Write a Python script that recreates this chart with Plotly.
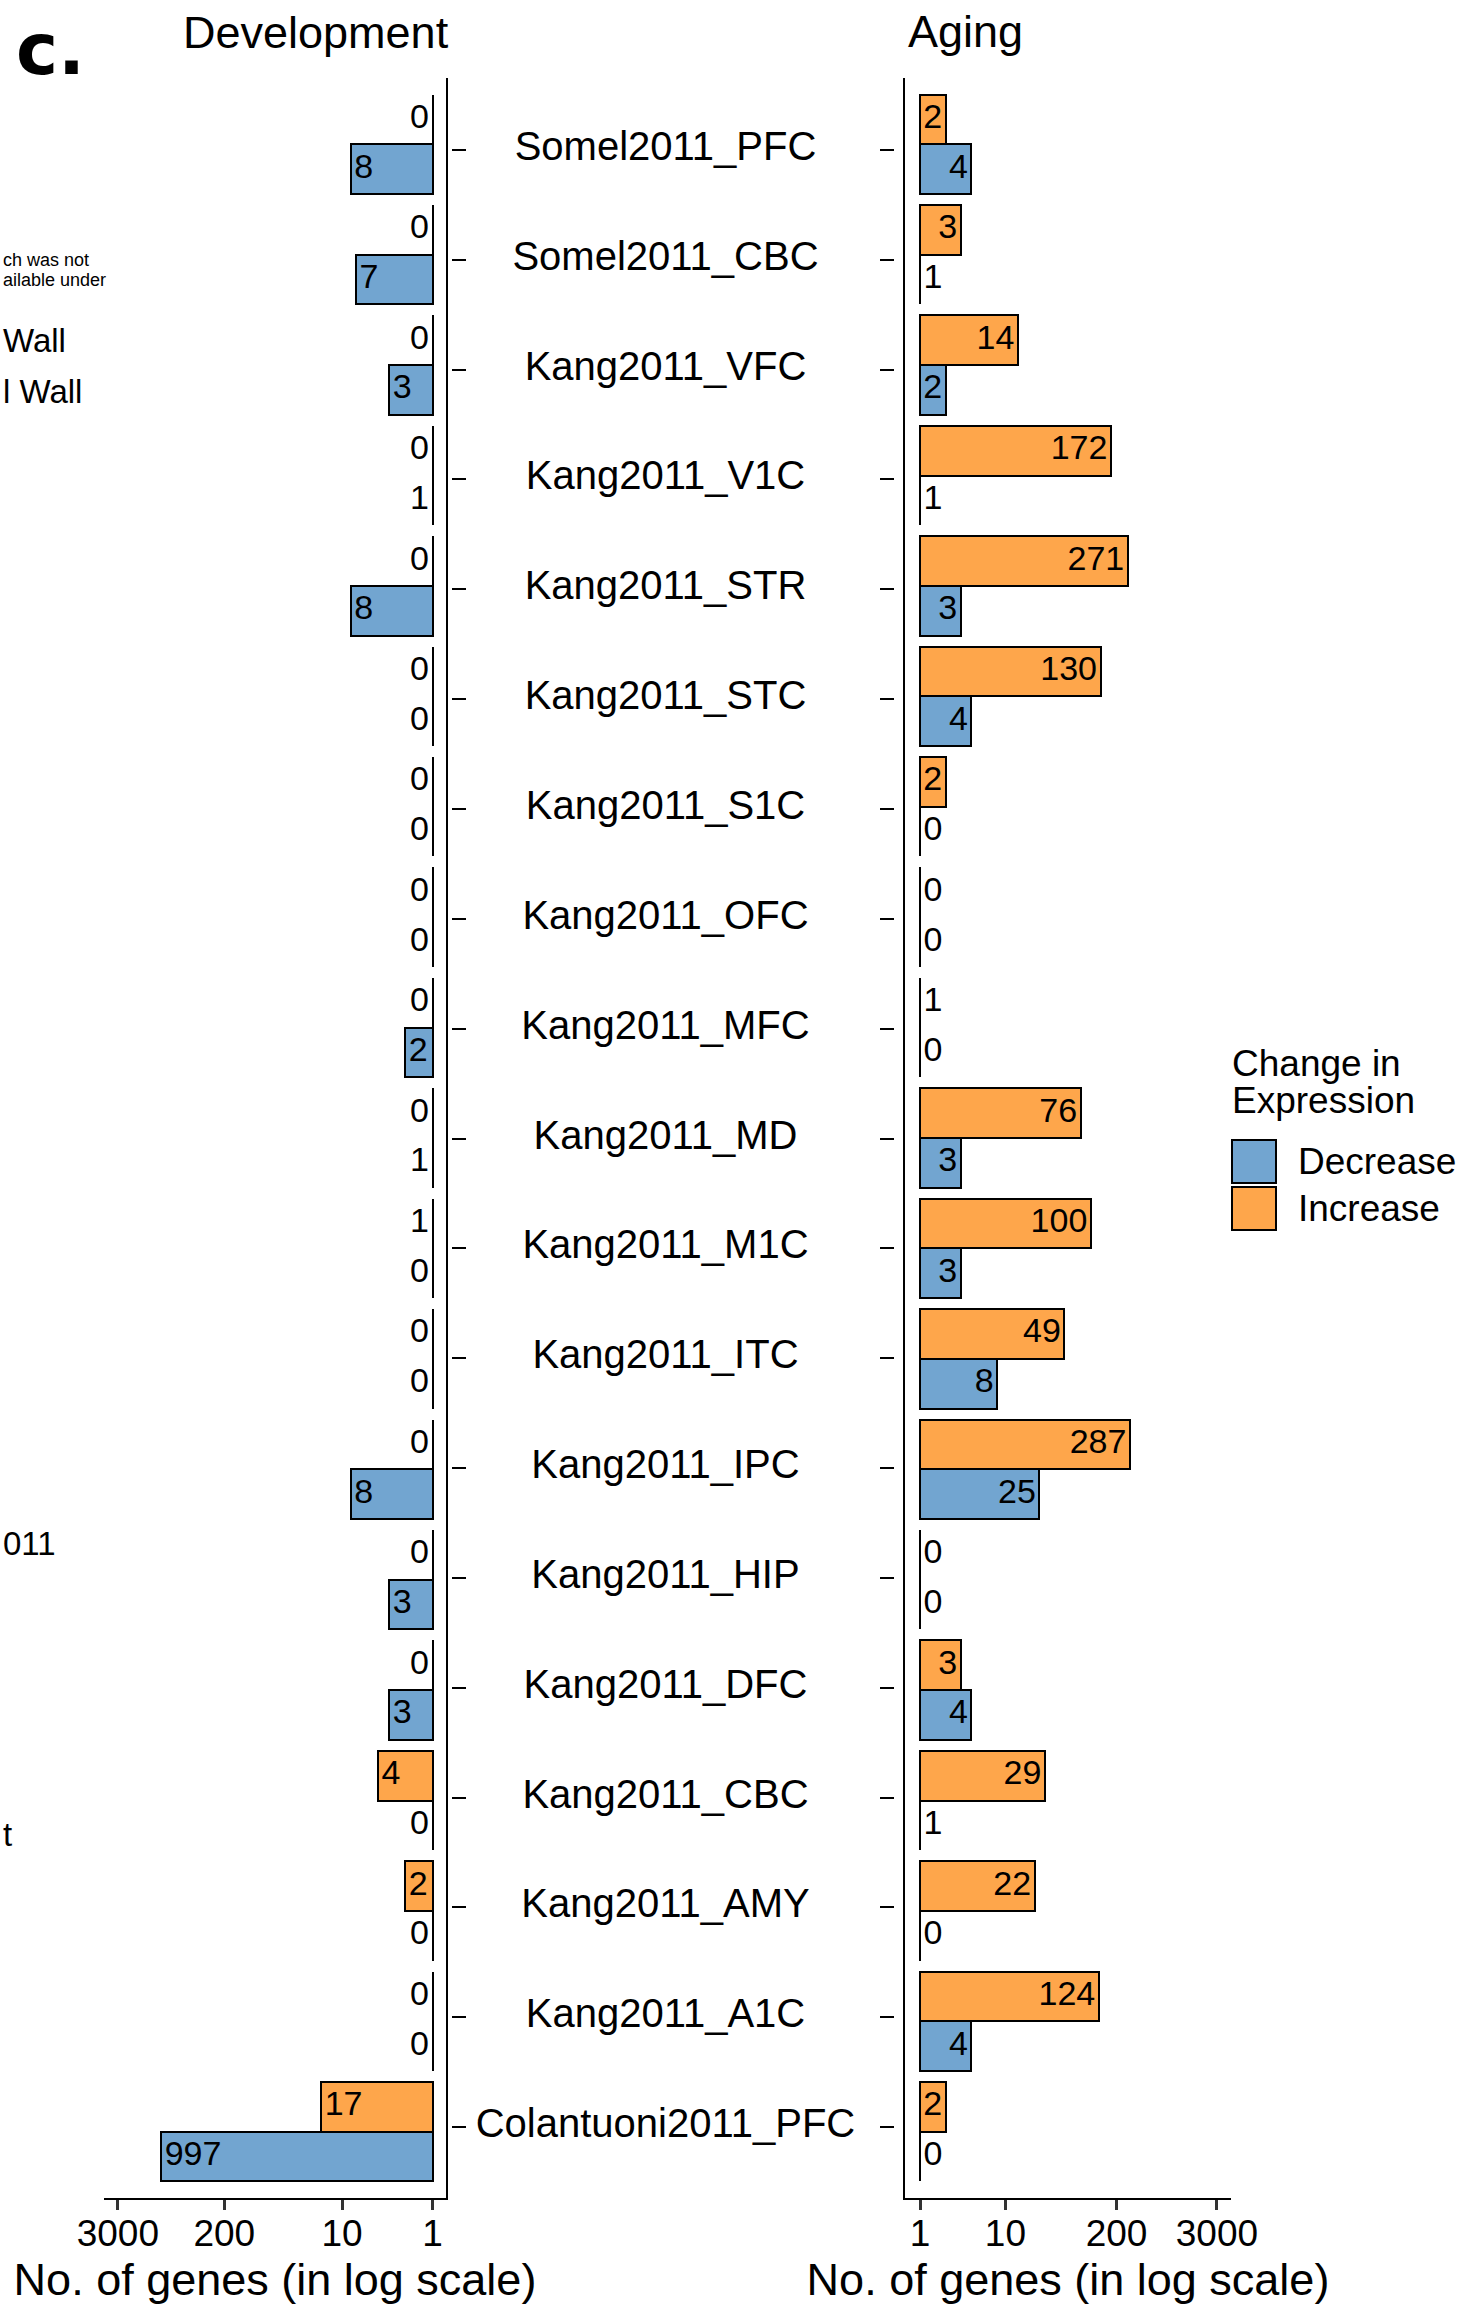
import plotly.graph_objects as go

# ---------------- data ----------------
categories = [
    "Somel2011_PFC", "Somel2011_CBC", "Kang2011_VFC", "Kang2011_V1C",
    "Kang2011_STR", "Kang2011_STC", "Kang2011_S1C", "Kang2011_OFC",
    "Kang2011_MFC", "Kang2011_MD", "Kang2011_M1C", "Kang2011_ITC",
    "Kang2011_IPC", "Kang2011_HIP", "Kang2011_DFC", "Kang2011_CBC",
    "Kang2011_AMY", "Kang2011_A1C", "Colantuoni2011_PFC",
]
dev_increase = [0, 0, 0, 0, 0, 0, 0, 0, 0, 0, 1, 0, 0, 0, 0, 4, 2, 0, 17]
dev_decrease = [8, 7, 3, 1, 8, 0, 0, 0, 2, 1, 0, 0, 8, 3, 3, 0, 0, 0, 997]
aging_increase = [2, 3, 14, 172, 271, 130, 2, 0, 1, 76, 100, 49, 287, 0, 3, 29, 22, 124, 2]
aging_decrease = [4, 1, 2, 1, 3, 4, 0, 0, 0, 3, 3, 8, 25, 0, 4, 1, 0, 4, 0]
x_tickvals = [1, 10, 200, 3000]
x_ticktext = ["1", "10", "200", "3000"]
series_names = ["Decrease", "Increase"]

# ---------------- style ----------------
W, H = 1468, 2306
BLUE = "#72A5D0"
ORANGE = "#FEA64B"
FONT = "Liberation Sans, Arial, Helvetica, sans-serif"


def px(x):
    return x / W


def py(y):
    return 1 - y / H


idx = list(range(len(categories)))
y_inc = [i - 0.225 for i in idx]
y_dec = [i + 0.225 for i in idx]


def bar(values, ypos, color, xa, ya, name):
    shown = [max(v, 1) for v in values]
    return go.Bar(
        x=[s - 1 for s in shown], base=[1] * len(values), y=ypos,
        orientation="h", width=0.45,
        marker=dict(color=color, line=dict(color="black", width=2)),
        xaxis=xa, yaxis=ya, name=name, showlegend=False, hoverinfo="skip",
    )


def labels(values, ypos, xa, ya, big_pos, small_pos):
    return go.Scatter(
        x=[max(v, 1) for v in values], y=ypos, mode="markers+text",
        text=[str(v) for v in values],
        textposition=[big_pos if v >= 2 else small_pos for v in values],
        marker=dict(size=4, color="rgba(0,0,0,0)"),
        textfont=dict(size=34, color="black", family=FONT),
        xaxis=xa, yaxis=ya, showlegend=False, hoverinfo="skip", cliponaxis=False,
    )


fig = go.Figure()
# Development (left, reversed log axis)
fig.add_trace(bar(dev_decrease, y_dec, BLUE, "x", "y", series_names[0]))
fig.add_trace(bar(dev_increase, y_inc, ORANGE, "x", "y", series_names[1]))
fig.add_trace(labels(dev_decrease, y_dec, "x", "y", "middle right", "middle left"))
fig.add_trace(labels(dev_increase, y_inc, "x", "y", "middle right", "middle left"))
# Aging (right)
fig.add_trace(bar(aging_decrease, y_dec, BLUE, "x2", "y2", series_names[0]))
fig.add_trace(bar(aging_increase, y_inc, ORANGE, "x2", "y2", series_names[1]))
fig.add_trace(labels(aging_decrease, y_dec, "x2", "y2", "middle left", "middle right"))
fig.add_trace(labels(aging_increase, y_inc, "x2", "y2", "middle left", "middle right"))
# Category labels (middle panel)
fig.add_trace(go.Scatter(
    x=[0.483] * len(categories), y=idx, mode="text", text=categories,
    textposition="middle center",
    textfont=dict(size=40, color="black", family=FONT),
    xaxis="x3", yaxis="y3", showlegend=False, hoverinfo="skip", cliponaxis=False,
))

xcommon = dict(
    type="log", showline=True, linecolor="black", linewidth=2,
    ticks="outside", ticklen=10, tickwidth=2.5, tickcolor="#333333",
    tickvals=x_tickvals, ticktext=x_ticktext, ticklabelstandoff=-8,
    tickfont=dict(size=37, color="black", family=FONT),
    showgrid=False, zeroline=False, automargin=False,
    title=dict(text="No. of genes (in log scale)", font=dict(size=45, color="black", family=FONT), standoff=10),
)
ycommon = dict(
    range=[18.6, -0.6], showline=True, linecolor="black", linewidth=2,
    ticks="", showticklabels=False, showgrid=False, zeroline=False, automargin=False,
    domain=[py(2198), py(78)],
)

fig.update_layout(
    width=W, height=H, margin=dict(l=0, r=0, t=0, b=0, autoexpand=False),
    paper_bgcolor="white", plot_bgcolor="white",
    font=dict(family=FONT, color="black"),
    bargap=0, showlegend=False,
    xaxis=dict(domain=[px(104), px(446)], range=[3.630, -0.149], anchor="y", **xcommon),
    yaxis=dict(anchor="x", side="right", **ycommon),
    xaxis2=dict(domain=[px(905), px(1231)], range=[-0.176, 3.642], anchor="y2", **xcommon),
    yaxis2=dict(anchor="x2", side="left", **ycommon),
    xaxis3=dict(domain=[px(452), px(894)], range=[0, 1], visible=False, anchor="y3", automargin=False),
    yaxis3=dict(domain=[py(2193), py(84)], range=[18.6, -0.6], anchor="x3", side="left",
                ticks="inside", ticklen=14, tickwidth=2, tickcolor="black", mirror="ticks",
                tickvals=idx, showline=False, showticklabels=False,
                showgrid=False, zeroline=False, automargin=False),
)

ann = []
# panel titles and tag
ann.append(dict(text="Development", x=px(316), y=py(33), xref="paper", yref="paper",
                xanchor="center", yanchor="middle", showarrow=False, font=dict(size=45)))
ann.append(dict(text="Aging", x=px(906), y=py(32), xref="paper", yref="paper",
                xanchor="left", yanchor="middle", showarrow=False, font=dict(size=45)))
ann.append(dict(text="<b>c.</b>", x=px(14), y=py(49), xref="paper", yref="paper",
                xanchor="left", yanchor="middle", showarrow=False,
                font=dict(size=71, family="DejaVu Sans")))
# fragments of the neighbouring panel at the left edge
for txt, xl, yc, fs in [("ch was not", 1, 260, 18), ("ailable under", 1, 280, 18),
                        ("Wall", 1, 340, 33), ("l Wall", 1, 392, 33),
                        ("011", 1, 1543, 33), ("t", 1, 1834, 33)]:
    ann.append(dict(text=txt, x=px(xl), y=py(yc), xref="paper", yref="paper",
                    xanchor="left", yanchor="middle", showarrow=False, font=dict(size=fs)))
# legend
ann.append(dict(text="Change in", x=px(1230), y=py(1063), xref="paper", yref="paper",
                xanchor="left", yanchor="middle", showarrow=False, font=dict(size=37)))
ann.append(dict(text="Expression", x=px(1230), y=py(1100), xref="paper", yref="paper",
                xanchor="left", yanchor="middle", showarrow=False, font=dict(size=37)))
shapes = []
for (name, color, y0, y1) in [(series_names[0], BLUE, 1140, 1183), (series_names[1], ORANGE, 1187, 1230)]:
    shapes.append(dict(type="rect", xref="paper", yref="paper", x0=px(1232), x1=px(1276),
                       y0=py(y1), y1=py(y0), fillcolor=color, line=dict(color="black", width=2)))
    ann.append(dict(text=name, x=px(1296), y=py((y0 + y1) / 2), xref="paper", yref="paper",
                    xanchor="left", yanchor="middle", showarrow=False, font=dict(size=37)))

fig.update_layout(annotations=ann, shapes=shapes)
fig.write_html("out.html")
